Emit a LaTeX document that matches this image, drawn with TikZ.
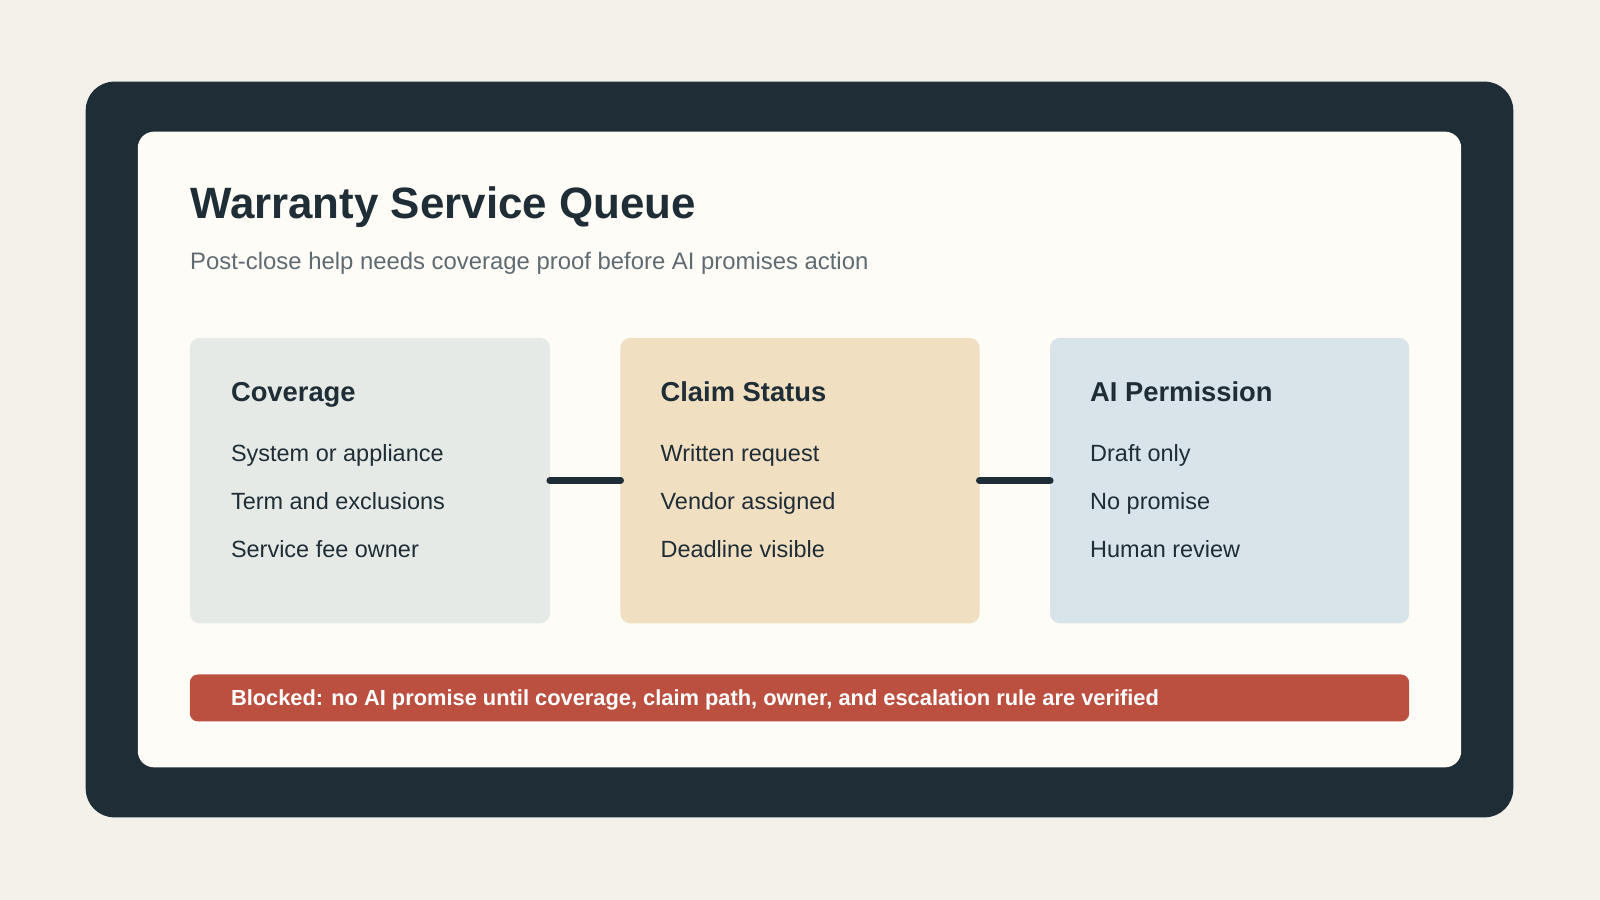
\documentclass[tikz,border=0pt]{standalone}
\usepackage{fontspec}
\setmainfont{Liberation Sans}
\definecolor{bg}{HTML}{F4F1EA}
\definecolor{dark}{HTML}{1F2D36}
\definecolor{cream}{HTML}{FEFCF6}
\definecolor{boxa}{HTML}{E6EAE7}
\definecolor{boxb}{HTML}{F1DFC2}
\definecolor{boxc}{HTML}{D8E4E9}
\definecolor{redb}{HTML}{BC5040}
\definecolor{sub}{HTML}{5F6B72}
\begin{document}
\begin{tikzpicture}[x=0.5pt,y=-0.5pt,
  card/.style={rounded corners=5pt},
  head/.style={anchor=base west,inner sep=0,font=\fontsize{13.4}{15}\selectfont\bfseries,text=dark},
  item/.style={anchor=base west,inner sep=0,font=\fontsize{11.5}{13}\selectfont,text=dark},
  link/.style={draw=dark,line width=3.5pt,line cap=round}]
\fill[bg] (0,0) rectangle (1568,882);
\useasboundingbox (0,0) rectangle (1568,882);
\fill[dark,rounded corners=14pt] (84,80) rectangle (1483,801);
\fill[cream,rounded corners=8pt] (135,129) rectangle (1432,752);
\node[anchor=base west,inner sep=0,font=\fontsize{21.5}{25}\selectfont\bfseries,text=dark] (title) at (186,214) {Warranty Service Queue};
\node[anchor=base west,inner sep=0,font=\fontsize{11.7}{13}\selectfont,text=sub] (subt) at (186,264) {Post-close help needs coverage proof before AI promises action};
\fill[boxa,card] (186,331) rectangle (539,611); \coordinate (a) at (539,471);
\fill[boxb,card] (608,331) rectangle (960,611); \coordinate (b1) at (608,471); \coordinate (b2) at (960,471);
\fill[boxc,card] (1029,331) rectangle (1381,611); \coordinate (c) at (1029,471);
\draw[link] (a) -- (b1);
\draw[link] (b2) -- (c);
\node[head] (h1) at (226,393) {Coverage};
\node[item] (i11) at (226,452) {System or appliance};
\node[item] (i12) at (226,499) {Term and exclusions};
\node[item] (i13) at (226,546) {Service fee owner};
\node[head] (h2) at (647,393) {Claim Status};
\node[item] (i21) at (647,452) {Written request};
\node[item] (i22) at (647,499) {Vendor assigned};
\node[item] (i23) at (647,546) {Deadline visible};
\node[head] (h3) at (1068,393) {AI Permission};
\node[item] (i31) at (1068,452) {Draft only};
\node[item] (i32) at (1068,499) {No promise};
\node[item] (i33) at (1068,546) {Human review};
\fill[redb,rounded corners=4pt] (186,661) rectangle (1381,707);
\node[anchor=base west,inner sep=0,font=\fontsize{10.7}{12}\selectfont\bfseries,text=white] (warn) at (226,691) {Blocked: no AI promise until coverage, claim path, owner, and escalation rule are verified};
\end{tikzpicture}
\end{document}
